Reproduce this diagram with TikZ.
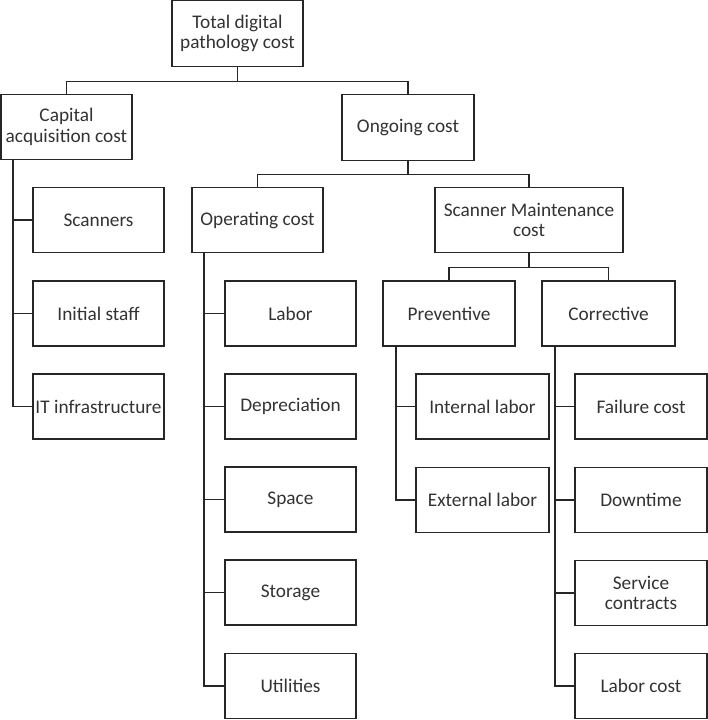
\documentclass[tikz,border=0pt]{standalone}
\usepackage{fontspec}
\setmainfont{Carlito}
\definecolor{linec}{HTML}{262626}
\definecolor{textc}{HTML}{333333}
\begin{document}
\begin{tikzpicture}[x=1pt,y=-1pt,
  box/.style={draw=linec, line width=1.6pt, fill=white, minimum width=131pt, minimum height=65pt,
    inner sep=1pt, align=center, text=textc, font=\fontsize{19.3}{20.5}\selectfont},
  conn/.style={draw=linec, line width=1.6pt}]
\useasboundingbox (0,0) rectangle (708,720);
% nodes
\node[box, minimum height=66pt] (tot) at (237.5,33.5) {Total digital\\pathology cost};
\node[box] (cap) at (66.5,127) {Capital\\acquisition cost};
\node[box, minimum width=132pt, minimum height=66pt] (ong) at (408,127.5) {Ongoing cost};
\node[box] (scan) at (98.5,220) {Scanners};
\node[box] (init) at (98.5,313.5) {Initial staff};
\node[box] (itinf) at (98.5,406.5) {IT infrastructure};
\node[box] (op) at (257.5,220) {Operating cost};
\node[box, minimum width=188pt] (smc) at (529,220) {Scanner Maintenance\\cost};
\node[box] (labor) at (290.5,313.5) {Labor};
\node[box] (dep) at (290.5,406.5) {Depreciation};
\node[box] (space) at (290.5,499.5) {Space};
\node[box] (stor) at (290.5,592.5) {Storage};
\node[box] (util) at (290.5,686) {Utilities};
\node[box, minimum width=132pt] (prev) at (449,313.5) {Preventive};
\node[box, minimum width=133pt] (corr) at (608.5,313.5) {Corrective};
\node[box, minimum width=133pt] (int) at (482.5,406.5) {Internal labor};
\node[box, minimum width=133pt] (ext) at (482.5,500) {External labor};
\node[box, minimum width=132pt] (fail) at (641,406.5) {Failure cost};
\node[box, minimum width=132pt] (down) at (641,500) {Downtime};
\node[box, minimum width=132pt] (serv) at (641,593) {Service\\contracts};
\node[box, minimum width=132pt] (labc) at (641,686) {Labor cost};
% level connectors
\draw[conn] (tot.south) -- ++(0,14) -| (cap.north);
\draw[conn] (tot.south) -- ++(0,14) -| (ong.north);
\draw[conn] (ong.south) -- ++(0,13) -| (op.north);
\draw[conn] (ong.south) -- ++(0,13) -| (smc.north);
\draw[conn] (smc.south) -- ++(0,14) -| (prev.north);
\draw[conn] (smc.south) -- ++(0,14) -| (corr.north);
% side trees
\foreach \c in {scan,init,itinf}
  \draw[conn] ([xshift=13pt]cap.south west) |- (\c.west);
\foreach \c in {labor,dep,space,stor,util}
  \draw[conn] ([xshift=13pt]op.south west) |- (\c.west);
\foreach \c in {int,ext}
  \draw[conn] ([xshift=14pt]prev.south west) |- (\c.west);
\foreach \c in {fail,down,serv,labc}
  \draw[conn] ([xshift=14pt]corr.south west) |- (\c.west);
\end{tikzpicture}
\end{document}
